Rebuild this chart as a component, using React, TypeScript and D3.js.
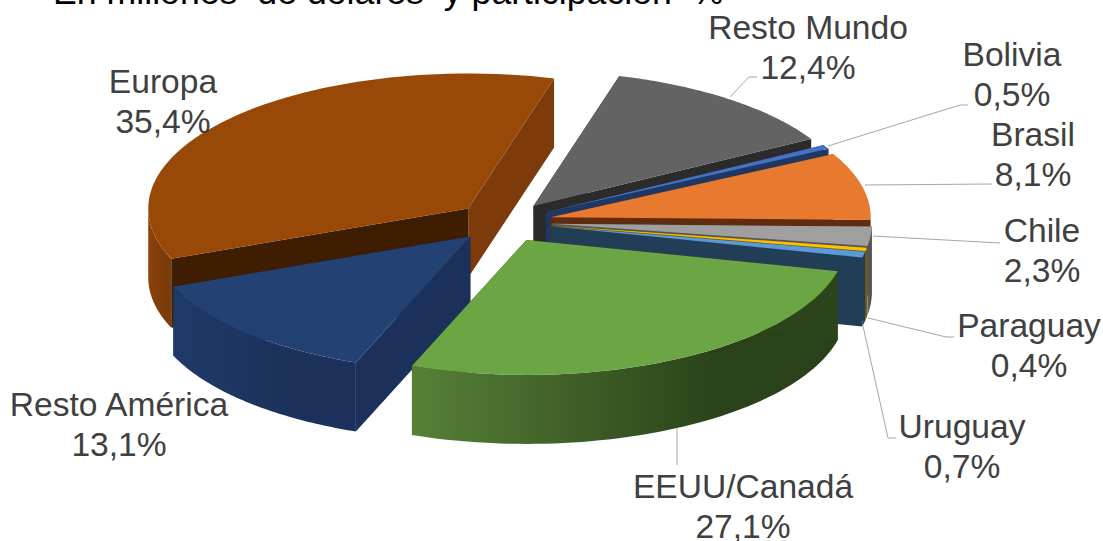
import React from "react";
import * as d3 from "d3";

const categories = ["Brasil", "Chile", "Paraguay", "Uruguay", "EEUU/Canadá", "Resto América", "Europa", "Resto Mundo", "Bolivia"];
const shares = [8.1, 2.3, 0.4, 0.7, 27.1, 13.1, 35.4, 12.4, 0.5];
const shareLabels = ["8,1%", "2,3%", "0,4%", "0,7%", "27,1%", "13,1%", "35,4%", "12,4%", "0,5%"];
const topColors = ["#e87a2f", "#9f9f9f", "#ffc000", "#5b9bd5", "#6ca644", "#234172", "#984807", "#636363", "#4472c4"];
const innerColors = ["#5f2c10", "#555555", "#7f6000", "#223d56", "#2b441b", "#1b305a", "#3f1d00", "#2b2b2b", "#1e3763"];
const endWallColors = ["#5f2c10", "#555555", "#7f6000", "#223d56", "#2b441b", "#1b305a", "#7d3a0a", "#2b2b2b", "#1e3763"];
const arcLeftColors = ["#7a3a12", "#666666", "#8f6c00", "#2c4d6b", "#568036", "#1f3a68", "#8a4208", "#3a3a3a", "#1e3763"];
const arcRightColors = ["#5f2c10", "#4d4d4d", "#7f6000", "#223d56", "#2a421a", "#1b305a", "#7d3a0a", "#2b2b2b", "#1e3763"];
const paintOrder = [6, 7, 8, 0, 1, 2, 3, 5, 4];
const labelCenters = [1033, 1042, 1029, 962, 743, 119, 163, 808, 1012];
const labelBaselines = [146, 242, 337, 438, 498, 416, 93, 38.5, 66];
const leaderLines: ([number, number][] | null)[] = [
  [[865, 185], [992, 184]],
  [[873, 236], [1000, 243]],
  [[868, 318], [946, 337], [954, 337]],
  [[863, 326], [888, 438], [896, 438]],
  [[677, 428], [677, 465]],
  null,
  null,
  [[730, 97], [749, 77], [757, 77]],
  [[828, 146], [960, 105], [968, 105]],
];

const firstAngle = (62 * Math.PI) / 180;
const cx = 504;
const cy = 222;
const radiusX = 320;
const radiusY = 135;
const depth = 69;
const explode = 0.15;

const xScale = d3.scaleLinear().domain([-1, 1]).range([-radiusX, radiusX]);
const yScale = d3.scaleLinear().domain([-1, 1]).range([radiusY, -radiusY]);
const lineGen = d3.line<[number, number]>();

const arcs = d3
  .pie<number>()
  .sort(null)
  .startAngle(firstAngle)
  .endAngle(firstAngle + 2 * Math.PI)(shares);

export default function App() {
  const slices = arcs.map((a, i) => {
    const mid = (a.startAngle + a.endAngle) / 2;
    const ax = cx + xScale(explode * Math.sin(mid));
    const ay = cy + yScale(explode * Math.cos(mid));
    const pt = (t: number, dy = 0): [number, number] => [ax + xScale(Math.sin(t)), ay + yScale(Math.cos(t)) + dy];
    const sweep = (from: number, to: number) => d3.range(0, 61).map((k) => from + ((to - from) * k) / 60);
    const rim = sweep(a.startAngle, a.endAngle).map((t) => pt(t));
    // only the front half of the rim shows a wall
    const wallFrom = Math.max(a.startAngle, Math.PI / 2);
    const wallTo = Math.min(a.endAngle, (3 * Math.PI) / 2);
    const hasWall = wallTo > wallFrom;
    const wallAngles = hasWall ? sweep(wallFrom, wallTo) : [];
    const wallPts = [...wallAngles.map((t) => pt(t)), ...wallAngles.slice().reverse().map((t) => pt(t, depth))];
    const apex: [number, number] = [ax, ay];
    const apexLow: [number, number] = [ax, ay + depth];
    const xs = wallPts.map((p) => p[0]);
    return {
      i,
      top: lineGen([apex, ...rim])! + "Z",
      wall: hasWall ? lineGen(wallPts)! + "Z" : null,
      startFace: lineGen([apex, rim[0], pt(a.startAngle, depth), apexLow])! + "Z",
      endFace: lineGen([apex, rim[60], pt(a.endAngle, depth), apexLow])! + "Z",
      x1: hasWall ? d3.min(xs)! : 0,
      x2: hasWall ? d3.max(xs)! : 1,
    };
  });
  const byIndex = (i: number) => slices[i];
  return (
    <svg width={1103} height={541} style={{ position: "absolute", left: 0, top: 0, background: "#fff" }} fontFamily="'Liberation Sans', Arial, sans-serif">
      <defs>
        {slices.map((s) => (
          <linearGradient key={s.i} id={`wall${s.i}`} gradientUnits="userSpaceOnUse" x1={s.x1} x2={s.x2} y1={0} y2={0}>
            <stop offset="0" stopColor={arcLeftColors[s.i]} />
            <stop offset="0.72" stopColor={arcRightColors[s.i]} />
            <stop offset="1" stopColor={arcRightColors[s.i]} />
          </linearGradient>
        ))}
      </defs>
      <text x={53} y={4} fontSize={35.7} fill="#000" xmlSpace="preserve">{"En millones  de dólares  y participación  %"}</text>
      {paintOrder.map((i) => {
        const s = byIndex(i);
        return (
          <g key={i}>
            <path d={s.endFace} fill={endWallColors[i]} />
            {s.wall ? <path d={s.wall} fill={`url(#wall${i})`} /> : null}
            <path d={s.startFace} fill={innerColors[i]} />
            <path d={s.top} fill={topColors[i]} />
          </g>
        );
      })}
      {leaderLines.map((pts, i) =>
        pts ? <path key={i} d={lineGen(pts)!} fill="none" stroke="#a6a6a6" strokeWidth={1} /> : null
      )}
      {categories.map((c, i) => (
        <g key={c} fontSize={33.6} fill="#404040" textAnchor="middle">
          <text x={labelCenters[i]} y={labelBaselines[i]}>{c}</text>
          <text x={labelCenters[i]} y={labelBaselines[i] + 40}>{shareLabels[i]}</text>
        </g>
      ))}
    </svg>
  );
}
